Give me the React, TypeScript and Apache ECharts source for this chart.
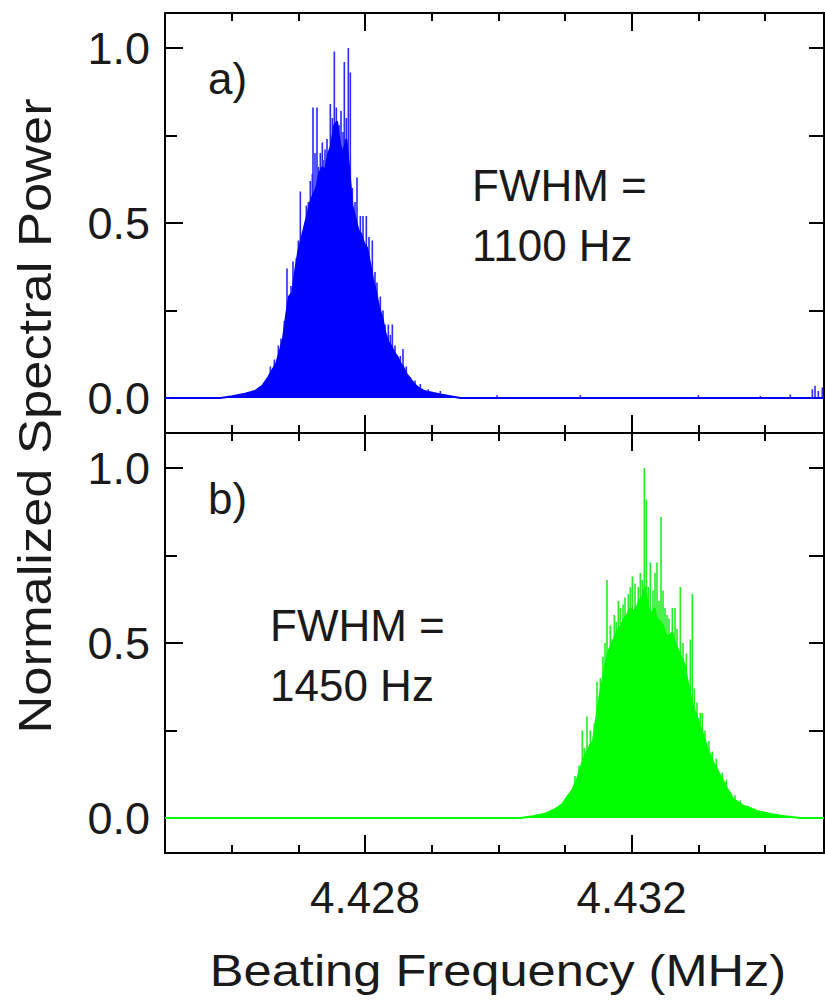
import React, { useEffect, useRef } from "react";
import * as echarts from "echarts";

const X_MIN = 4.425;
const X_MAX = 4.434885;
const MAJOR_X = [4.428, 4.432];
const MINOR_X = [4.425, 4.426, 4.427, 4.429, 4.43, 4.431, 4.433, 4.434];
const MAJOR_Y = [0, 0.5, 1.0];
const MINOR_Y = [0.25, 0.75];
const ALL_Y = [0, 0.25, 0.5, 0.75, 1.0];

// panel a) body of the spectrum (frequency MHz, normalized power)
const A_FREQ = [4.425, 4.42583, 4.42601, 4.4262, 4.42635, 4.42646, 4.42655, 4.42661, 4.42667, 4.42673, 4.42677, 4.42682, 4.42686, 4.42691, 4.42695, 4.427, 4.42704, 4.42709, 4.42713, 4.42718, 4.42722, 4.42727, 4.42731, 4.42736, 4.4274, 4.42745, 4.42749, 4.42754, 4.42758, 4.42763, 4.42767, 4.42772, 4.42776, 4.42781, 4.42785, 4.4279, 4.42794, 4.42799, 4.42803, 4.42808, 4.42812, 4.42817, 4.42821, 4.42826, 4.4283, 4.42835, 4.42839, 4.42844, 4.42848, 4.42853, 4.42857, 4.42862, 4.42868, 4.42874, 4.4288, 4.42889, 4.42901, 4.42913, 4.42928, 4.42943, 4.434885];
const A_POWER = [0, 0, 0.005, 0.012, 0.02, 0.035, 0.06, 0.08, 0.1, 0.14, 0.17, 0.24, 0.29, 0.3, 0.36, 0.42, 0.45, 0.49, 0.52, 0.56, 0.58, 0.6, 0.64, 0.66, 0.65, 0.7, 0.72, 0.78, 0.79, 0.72, 0.7, 0.74, 0.66, 0.55, 0.52, 0.48, 0.47, 0.44, 0.43, 0.38, 0.34, 0.3, 0.26, 0.23, 0.19, 0.16, 0.15, 0.13, 0.12, 0.1, 0.09, 0.07, 0.055, 0.04, 0.03, 0.02, 0.015, 0.01, 0.005, 0, 0];
// panel a) individual spectral lines standing above the body
const A_SPIKE_FREQ = [4.42674, 4.42683, 4.42689, 4.42692, 4.42703, 4.42707, 4.42712, 4.42718, 4.42722, 4.42728, 4.42733, 4.42736, 4.4274, 4.42748, 4.42754, 4.42764, 4.42769, 4.42775, 4.42778, 4.42788, 4.42797, 4.42802, 4.42811, 4.42818, 4.4283, 4.42835, 4.42841, 4.42857, 4.42868, 4.42913, 4.42998, 4.43123, 4.433, 4.43393, 4.43438, 4.43471, 4.43475, 4.4348, 4.43486,
  4.42658, 4.42664, 4.4267, 4.42679, 4.42697, 4.427, 4.4271, 4.42715, 4.42721, 4.42725, 4.4273, 4.42737, 4.42743, 4.42751, 4.42757, 4.42761, 4.42767, 4.42772, 4.42781, 4.42785, 4.42793, 4.42806, 4.42815, 4.42823, 4.42827, 4.42838, 4.42845, 4.42853, 4.42862, 4.42875, 4.42883, 4.42895];
const A_SPIKE_POWER = [0.17, 0.37, 0.32, 0.39, 0.59, 0.47, 0.55, 0.62, 0.83, 0.83, 0.7, 0.73, 0.71, 0.84, 0.99, 0.82, 0.96, 1.0, 0.93, 0.63, 0.52, 0.52, 0.45, 0.33, 0.21, 0.21, 0.21, 0.14, 0.06, 0.02, 0.008, 0.008, 0.008, 0.006, 0.01, 0.025, 0.035, 0.02, 0.03,
  0.09, 0.11, 0.15, 0.22, 0.4, 0.45, 0.5, 0.56, 0.64, 0.7, 0.66, 0.68, 0.74, 0.8, 0.83, 0.78, 0.76, 0.8, 0.6, 0.56, 0.52, 0.46, 0.36, 0.29, 0.25, 0.18, 0.15, 0.12, 0.09, 0.05, 0.04, 0.025];

// panel b) body of the spectrum
const B_FREQ = [4.425, 4.43033, 4.43052, 4.4307, 4.43085, 4.43096, 4.43103, 4.43111, 4.43118, 4.43126, 4.43133, 4.43138, 4.43142, 4.43148, 4.43153, 4.43157, 4.43162, 4.43166, 4.43171, 4.43175, 4.4318, 4.43184, 4.43189, 4.43193, 4.43198, 4.43202, 4.43207, 4.43211, 4.43216, 4.4322, 4.43225, 4.43229, 4.43234, 4.43238, 4.43243, 4.43247, 4.43252, 4.43256, 4.43261, 4.43265, 4.4327, 4.43274, 4.43279, 4.43283, 4.43288, 4.43292, 4.43298, 4.43303, 4.43309, 4.43313, 4.43318, 4.43322, 4.43328, 4.43333, 4.43339, 4.43343, 4.43348, 4.43352, 4.4336, 4.43367, 4.43378, 4.43388, 4.434, 4.43412, 4.4343, 4.43453, 4.434885];
const B_POWER = [0, 0, 0.005, 0.012, 0.025, 0.04, 0.06, 0.08, 0.11, 0.16, 0.19, 0.21, 0.22, 0.3, 0.36, 0.4, 0.45, 0.48, 0.5, 0.52, 0.54, 0.55, 0.57, 0.58, 0.6, 0.59, 0.6, 0.62, 0.63, 0.66, 0.6, 0.58, 0.6, 0.57, 0.56, 0.55, 0.52, 0.52, 0.53, 0.5, 0.48, 0.46, 0.44, 0.4, 0.35, 0.32, 0.29, 0.26, 0.23, 0.2, 0.18, 0.16, 0.14, 0.12, 0.1, 0.085, 0.07, 0.055, 0.045, 0.035, 0.028, 0.02, 0.015, 0.01, 0.005, 0, 0];
// panel b) individual spectral lines standing above the body
const B_SPIKE_FREQ = [4.43126, 4.43133, 4.43148, 4.43157, 4.43163, 4.43171, 4.4318, 4.43183, 4.43187, 4.43195, 4.43201, 4.43205, 4.43213, 4.43219, 4.43222, 4.43228, 4.43238, 4.43244, 4.43247, 4.43253, 4.43261, 4.43265, 4.43273, 4.43288, 4.43291, 4.43298, 4.43303,
  4.43115, 4.43121, 4.43129, 4.43138, 4.43144, 4.43153, 4.4316, 4.43168, 4.43174, 4.43177, 4.4319, 4.43198, 4.4321, 4.43216, 4.43225, 4.43232, 4.43235, 4.43241, 4.4325, 4.43256, 4.43268, 4.43277, 4.43282, 4.43294, 4.43306, 4.4331, 4.43316, 4.43321, 4.43327, 4.43336, 4.43342, 4.43355, 4.43363, 4.43375];
const B_SPIKE_POWER = [0.25, 0.29, 0.39, 0.46, 0.68, 0.51, 0.62, 0.6, 0.61, 0.64, 0.69, 0.67, 0.7, 1.0, 0.91, 0.73, 0.73, 0.86, 0.65, 0.58, 0.6, 0.6, 0.66, 0.51, 0.64, 0.33, 0.3,
  0.12, 0.15, 0.2, 0.25, 0.27, 0.4, 0.5, 0.55, 0.58, 0.56, 0.63, 0.66, 0.66, 0.68, 0.66, 0.65, 0.7, 0.62, 0.6, 0.57, 0.54, 0.5, 0.47, 0.37, 0.3, 0.25, 0.22, 0.19, 0.17, 0.13, 0.11, 0.065, 0.05, 0.035];

const FONT = "'Liberation Sans', Arial, Helvetica, sans-serif";
const TEXT_COLOR = "#1a1a1a";

const pairs = (xs: number[], ys: number[]) => xs.map((x, i) => [x, ys[i]]);

function xAxes(grid: number, labels: boolean) {
  const base = {
    gridIndex: grid,
    type: "value",
    min: X_MIN,
    max: X_MAX,
    splitLine: { show: false },
  };
  const major = (position: string, show: boolean) => ({
    ...base,
    position,
    axisLine: { show: true, onZero: false, lineStyle: { color: "#000", width: 2 } },
    axisTick: { show: true, inside: true, length: 18, customValues: MAJOR_X, lineStyle: { color: "#000", width: 2 } },
    axisLabel: {
      show,
      customValues: MAJOR_X,
      formatter: (v: number) => v.toFixed(3),
      fontSize: 44,
      fontFamily: FONT,
      color: TEXT_COLOR,
      margin: 22,
    },
  });
  const minor = (position: string) => ({
    ...base,
    position,
    axisLine: { show: false, onZero: false },
    axisTick: { show: true, inside: true, length: 8, customValues: MINOR_X, lineStyle: { color: "#000", width: 2 } },
    axisLabel: { show: false },
  });
  return [major("bottom", labels), minor("bottom"), major("top", false), minor("top")];
}

function yAxes(grid: number) {
  const base = {
    gridIndex: grid,
    type: "value",
    min: -0.1,
    max: 1.1,
    splitLine: { show: false },
  };
  return [
    {
      ...base,
      position: "left",
      axisLine: { show: true, onZero: false, lineStyle: { color: "#000", width: 2 } },
      axisTick: { show: true, inside: true, length: 18, customValues: MAJOR_Y, lineStyle: { color: "#000", width: 2 } },
      axisLabel: {
        show: true,
        customValues: MAJOR_Y,
        formatter: (v: number) => v.toFixed(1),
        fontSize: 45,
        fontFamily: FONT,
        color: TEXT_COLOR,
        margin: 15,
      },
    },
    {
      ...base,
      position: "left",
      axisLine: { show: false, onZero: false },
      axisTick: { show: true, inside: true, length: 12, customValues: MINOR_Y, lineStyle: { color: "#000", width: 2 } },
      axisLabel: { show: false },
    },
    {
      ...base,
      position: "right",
      axisLine: { show: true, onZero: false, lineStyle: { color: "#000", width: 2 } },
      axisTick: { show: true, inside: true, length: 15, customValues: ALL_Y, lineStyle: { color: "#000", width: 2 } },
      axisLabel: { show: false },
    },
  ];
}

function label(text: string, x: number, y: number, size = 44) {
  return {
    type: "text",
    x,
    y,
    style: { text, fontSize: size, fontFamily: FONT, fill: TEXT_COLOR, textAlign: "left", textVerticalAlign: "top" },
  };
}

export default function App() {
  const ref = useRef<HTMLDivElement>(null);
  useEffect(() => {
    if (!ref.current) return;
    const chart = echarts.init(ref.current, undefined, { renderer: "svg" });
    const blue = "#0000ff";
    const green = "#00ff00";
    chart.setOption({
      animation: false,
      backgroundColor: "#ffffff",
      grid: [
        { left: 165, top: 13, width: 659, height: 420 },
        { left: 165, top: 433, width: 659, height: 420 },
      ],
      xAxis: [...xAxes(0, false), ...xAxes(1, true)],
      yAxis: [...yAxes(0), ...yAxes(1)],
      series: [
        {
          type: "line",
          xAxisIndex: 0,
          yAxisIndex: 0,
          data: pairs(A_FREQ, A_POWER),
          showSymbol: false,
          lineStyle: { color: blue, width: 2 },
          areaStyle: { color: blue, opacity: 1 },
        },
        {
          type: "bar",
          xAxisIndex: 0,
          yAxisIndex: 0,
          barWidth: 1.6,
          data: pairs(A_SPIKE_FREQ, A_SPIKE_POWER),
          itemStyle: { color: "#2a2aff" },
        },
        {
          type: "line",
          xAxisIndex: 4,
          yAxisIndex: 3,
          data: pairs(B_FREQ, B_POWER),
          showSymbol: false,
          lineStyle: { color: green, width: 2 },
          areaStyle: { color: green, opacity: 1 },
        },
        {
          type: "bar",
          xAxisIndex: 4,
          yAxisIndex: 3,
          barWidth: 1.6,
          data: pairs(B_SPIKE_FREQ, B_SPIKE_POWER),
          itemStyle: { color: "#22ee22" },
        },
      ],
      graphic: [
        label("a)", 208, 56),
        label("FWHM =", 472, 163),
        label("1100 Hz", 472, 223),
        label("b)", 208, 476),
        label("FWHM =", 270, 603),
        label("1450 Hz", 270, 663),
        {
          type: "text",
          x: 498,
          y: 971,
          scaleX: 1.15,
          style: {
            text: "Beating Frequency (MHz)",
            fontSize: 44,
            fontFamily: FONT,
            fill: TEXT_COLOR,
            textAlign: "center",
            textVerticalAlign: "middle",
          },
        },
        {
          type: "text",
          x: 35,
          y: 416,
          rotation: Math.PI / 2,
          scaleX: 1.14,
          style: {
            text: "Normalized Spectral Power",
            fontSize: 46,
            fontFamily: FONT,
            fill: TEXT_COLOR,
            textAlign: "center",
            textVerticalAlign: "middle",
          },
        },
      ],
    });
    return () => chart.dispose();
  }, []);
  return (
    <div
      ref={ref}
      style={{ position: "absolute", left: 0, top: 0, width: 825, height: 1000, background: "#fff" }}
    />
  );
}
